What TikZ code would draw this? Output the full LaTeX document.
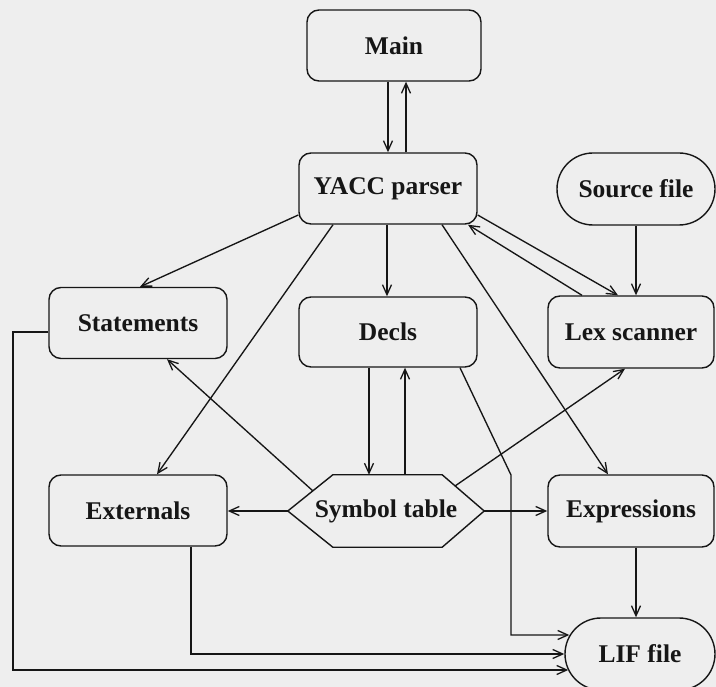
\documentclass[tikz,border=0pt]{standalone}
\usepackage{fontspec}
\setmainfont{Liberation Serif}
\usetikzlibrary{arrows.meta,shapes.misc,calc}
\definecolor{paper}{RGB}{238,238,238}
\definecolor{ink}{RGB}{22,22,22}
\begin{document}
\begin{tikzpicture}[x=1pt,y=1pt,
  every node/.style={font=\fontsize{25.5}{29}\selectfont\bfseries, text=ink},
  box/.style={draw=ink, line width=1.4pt, rounded corners=12pt, minimum width=#1, minimum height=71pt, inner sep=0pt},
  pill/.style={draw=ink, line width=1.4pt, rounded rectangle, minimum width=#1, minimum height=72pt, inner sep=0pt},
  arr/.style={draw=ink, line width=1.35pt, -{Straight Barb[length=10pt,width=9pt,line width=1.3pt]}},
  link/.style={draw=ink, line width=1.35pt}]
% page and background
\fill[paper] (0,0) rectangle (716,-687);
\useasboundingbox (0,0) rectangle (716,-687);

% blocks
\node[box=174pt] (main)  at (394,-45.5) {Main};
\node[box=178pt] (yacc)  at (388,-188.5) {YACC parser};
\node[pill=158pt] (src)  at (636,-189) {Source file};
\node[box=178pt] (stmt)  at (138,-323) {Statements};
\node[box=178pt, minimum height=70pt] (decls) at (388,-332) {Decls};
\node[box=166pt, minimum height=72pt] (lex) at (631,-332) {Lex scanner};
\node[box=178pt] (ext)   at (138,-510.5) {Externals};
\node[box=166pt, minimum height=72pt] (expr) at (631,-511) {Expressions};
\node[minimum width=196pt, minimum height=72pt, inner sep=0pt] (sym) at (386,-511) {Symbol table};
\node[pill=150pt] (lif)  at (640,-654) {LIF file};

% hexagonal outline of the symbol table
\draw[ink, line width=1.4pt, line join=miter]
  (sym.west) -- ([xshift=45pt]sym.north west) -- ([xshift=-42pt]sym.north east)
  -- (sym.east) -- ([xshift=-42pt]sym.south east) -- ([xshift=45pt]sym.south west) -- cycle;

% bend points of the routed connectors
\coordinate (declsBend) at (511,-475);
\coordinate (stmtTurn)  at (13,-670);

% Main <-> YACC parser
\draw[arr] ([xshift=-6pt]main.south) -- ([xshift=-6pt]main.south |- yacc.north);
\draw[arr] ([xshift=12pt]main.south |- yacc.north) -- ([xshift=12pt]main.south);

% YACC parser fan-out
\draw[arr] ([yshift=-26.5pt]yacc.west) -- ([xshift=2pt]stmt.north);
\draw[arr] ([xshift=-55pt]yacc.south) -- ([xshift=19pt]ext.north);
\draw[arr] ([xshift=-1pt]yacc.south) -- ([xshift=-1pt]yacc.south |- decls.north);
\draw[arr] ([xshift=54pt]yacc.south) -- ([xshift=-23pt]expr.north);
\draw[arr] ([yshift=-26.5pt]yacc.east) -- ([xshift=-13pt]lex.north);
\draw[arr] ([xshift=-49pt]lex.north) -- ([xshift=80pt]yacc.south);

% Source file -> Lex scanner
\draw[arr] (src.south) -- (src.south |- lex.north);

% Decls <-> Symbol table
\draw[arr] ([xshift=-19pt]decls.south) -- ([xshift=-19pt]decls.south |- sym.north);
\draw[arr] ([xshift=17pt]decls.south |- sym.north) -- ([xshift=17pt]decls.south);

% Symbol table fan-out
\draw[arr] (sym.west) -- (sym.west -| ext.east);
\draw[arr] (sym.east) -- (sym.east -| expr.west);
\draw[arr] ([shift={(-73pt,20pt)}]sym.center) -- ([xshift=29pt]stmt.south);
\draw[arr] ([shift={(69pt,25pt)}]sym.center) -- ([xshift=-6pt]lex.south);

% everything that feeds the LIF file
\draw[arr] ([xshift=5pt]expr.south) -- ([xshift=5pt]expr.south |- lif.north);
\draw[arr] ([xshift=72pt]decls.south) -- (declsBend) |- ([shift={(5pt,19pt)}]lif.west);
\draw[arr] ([xshift=53pt]ext.south) |- (lif.west);
\draw[arr] ([yshift=-9pt]stmt.west) -| (stmtTurn) -- ([shift={(4pt,-16pt)}]lif.west);
\end{tikzpicture}
\end{document}
